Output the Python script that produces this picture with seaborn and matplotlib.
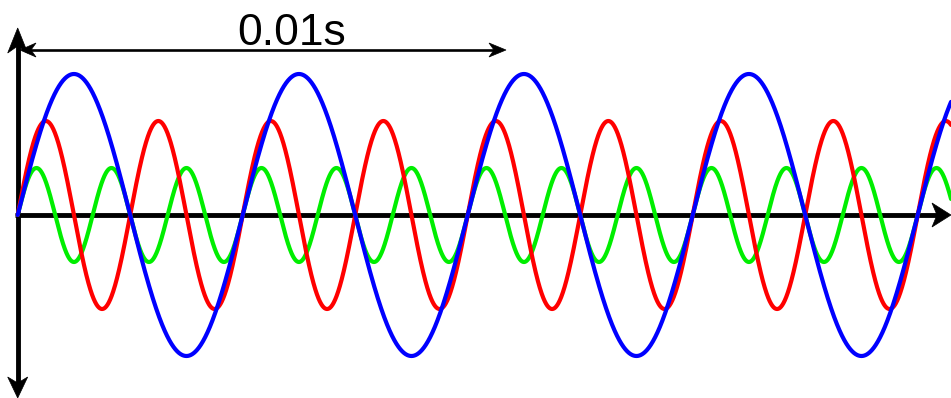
import numpy as np
import pandas as pd
import matplotlib
matplotlib.use("Agg")
import matplotlib.pyplot as plt
import seaborn as sns
from matplotlib.patches import Polygon

# ---- data ----
series_names = ["green", "red", "blue"]
frequencies_hz = [648.0, 432.0, 216.0]      # 3rd, 2nd, 1st harmonic
amplitudes = [1.0, 2.0, 3.0]
colors = ["#00ee00", "#ff0000", "#0000ff"]
span_label = "0.01s"
span_seconds = 0.01

sns.set_style("white")
plt.rcParams["font.family"] = ["Liberation Sans", "DejaVu Sans"]

W, H = 951, 398
fig = plt.figure(figsize=(W / 100, H / 100), dpi=100)
ax = fig.add_axes([0, 0, 1, 1])

# pixel mapping helpers (axes fills the figure)
x0_px, y0_px = 17.7, 215.0
px_per_s = 48600.0
px_per_unit = 47.0
xlim = (-x0_px / px_per_s, (W - x0_px) / px_per_s)
ylim = (-(H - y0_px) / px_per_unit, y0_px / px_per_unit)

t = np.linspace(0, xlim[1] + 0.0002, 4000)
frames = []
for name, f, a in zip(series_names, frequencies_hz, amplitudes):
    frames.append(pd.DataFrame({"t": t, "v": a * np.sin(2 * np.pi * f * t), "s": name}))
df = pd.concat(frames, ignore_index=True)

for i, (name, c) in enumerate(zip(series_names, colors)):
    sns.lineplot(data=df[df.s == name], x="t", y="v", color=c, lw=3.0,
                 ax=ax, zorder=5 + i, estimator=None, sort=False)

ax.set_xlim(*xlim)
ax.set_ylim(*ylim)
ax.axis("off")


def dx(px):
    return px / px_per_s


def dy(px):
    return px / px_per_unit


def arrowhead(tip, direction, length, halfw, notch, z=10):
    # direction: unit vector in pixel space (x right, y up)
    ux, uy = direction
    px_, py_ = -uy, ux
    tx, ty = tip
    pts_px = [(0, 0),
              (-ux * length + px_ * halfw, -uy * length + py_ * halfw),
              (-ux * (length - notch), -uy * (length - notch)),
              (-ux * length - px_ * halfw, -uy * length - py_ * halfw)]
    pts = [(tx + dx(a), ty + dy(b)) for a, b in pts_px]
    ax.add_patch(Polygon(pts, closed=True, facecolor="black", edgecolor="black",
                         lw=0.5, zorder=z))


# axes lines
axis_lw = 3.5
ax.plot([dx(-2.7), xlim[1] - dx(12)], [0, 0], color="black", lw=axis_lw, zorder=3,
        solid_capstyle="butt")
arrowhead((xlim[1], 0), (1, 0), 19, 12, 5, z=4)
ytop = dy(y0_px - 28)
ybot = -dy(H - y0_px)
ax.plot([0, 0], [ybot + dy(12), ytop - dy(12)], color="black", lw=axis_lw, zorder=3,
        solid_capstyle="butt")
arrowhead((0, ytop), (0, 1), 25, 10, 7, z=4)
arrowhead((0, ybot), (0, -1), 21, 10, 6, z=4)

# dimension arrow for 0.01 s
y_dim = dy(y0_px - 50)
x_left = dx(20 - x0_px)
x_right = x_left + span_seconds
ax.plot([x_left + dx(8), x_right - dx(8)], [y_dim, y_dim], color="black", lw=1.9,
        zorder=3, solid_capstyle="butt")
arrowhead((x_left, y_dim), (-1, 0), 16, 7, 5, z=4)
arrowhead((x_right, y_dim), (1, 0), 17, 7, 5, z=4)
ax.text(dx(292 - x0_px), dy(y0_px - 45), span_label, ha="center", va="baseline",
        fontsize=32, color="black", zorder=6)

fig.savefig("out.png", dpi=100)
